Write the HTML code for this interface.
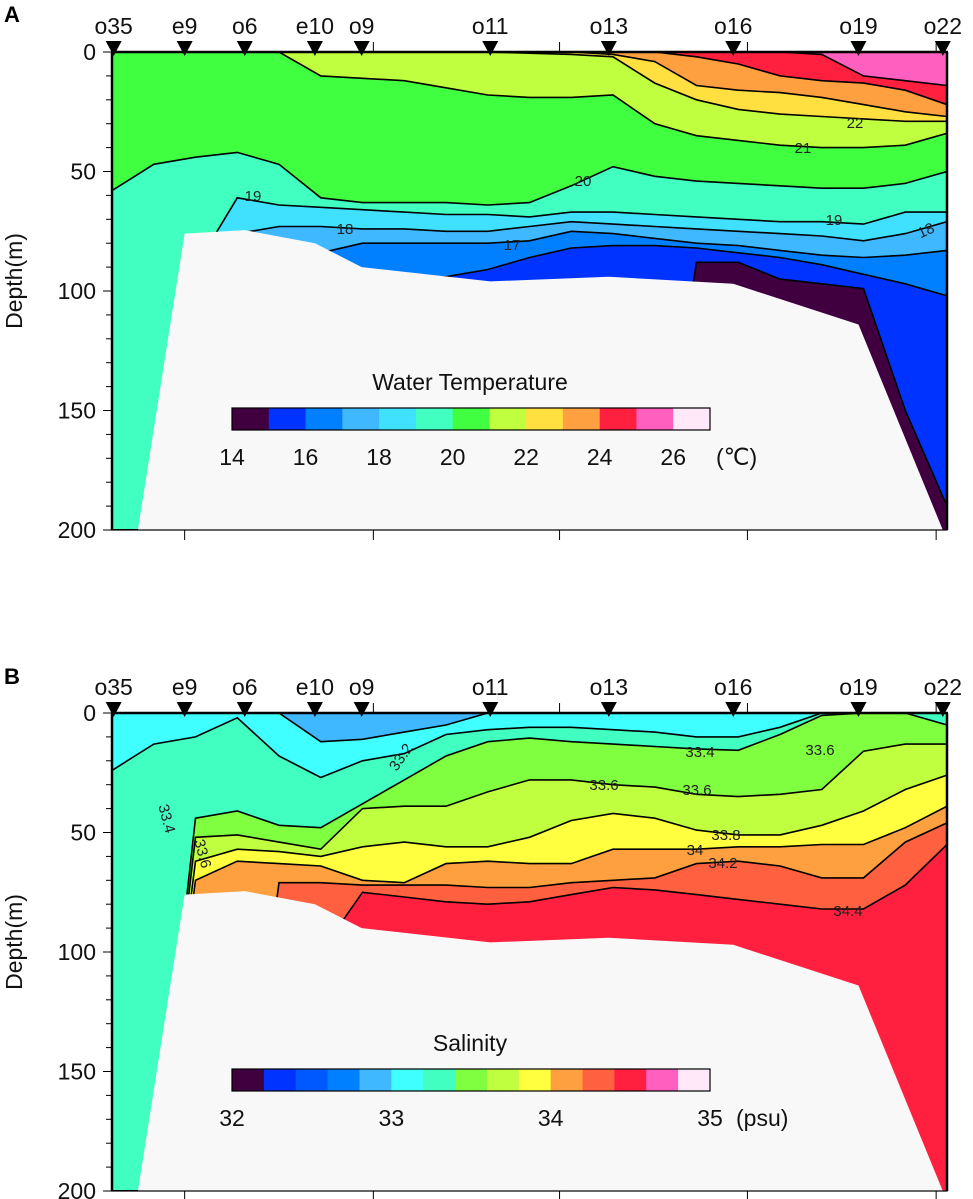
<!DOCTYPE html>
<html><head><meta charset="utf-8">
<style>
html,body{margin:0;padding:0;background:#fff;}
svg{display:block;font-family:"Liberation Sans",sans-serif;}
</style></head>
<body>
<svg id="chart" width="973" height="1199" viewBox="0 0 973 1199" xmlns="http://www.w3.org/2000/svg">
<text x="4" y="22" font-size="22" font-weight="bold">A</text>
<text x="4" y="684" font-size="22" font-weight="bold">B</text>
<g id="panelA"></g>
<g id="panelB"></g>
</svg>
<script>
// ---- shared data ----
const xs = [0,5,10,15,20,25,30,35,40,45,50,55,60,65,70,75,80,85,90,95,100];
const stationNames = ["o35","e9","o6","e10","o9","o11","o13","o16","o19","o22"];
const stationDist = [0.2,8.7,15.9,24.3,29.9,45.3,59.5,74.4,89.4,99.5];
const bottomTicks = [8.7,31.3,53.6,76.1,98.7];
const depthTicks = [0,50,100,150,200];
const bathyX = [3.1,8.7,15.9,24.3,29.9,45.3,59.5,74.4,89.4,99.5];
const bathyDepth = [200,76,74.5,80,90,96,94,97,114,200];

// ---- temperature isotherms (depth m at xs) ----
const T25 = [0,0,0,0,0,0,0,0,0,0,0,0,0,0,0,0,0,1,10,12,14];
const T24 = [0,0,0,0,0,0,0,0,0,0,0,0,0,0,2,5,10,12,13,16,22];
const T23 = [0,0,0,0,0,0,0,0,0,0,0,0,1,4,14,16,17,19,22,25,27];
const T22 = [0,0,0,0,0,0,0,0,0,0,0.5,1,2,13,20,24,26,27,28,29,29];
const T21 = [0,0,0,0,0,10,11,12,15,18,19,19,18,30,35,37,39,40,40,39,34];
const T20 = [58,47,44,42,47,61,63,63,63,64,63,56,48,52,54,55,56,57,57,55,50];
const T19 = [200,200,90,61,64,65,66,67,68,68,69,67,67,68,69,70,71,71,72,67,67];
const T18 = [200,200,95,76,73,73,74,74,75,75,73,71,72,73,74,75,76,77,79,76,71];
const T17 = [200,200,200,95,88,84,80,80,80,80,79,75,76,78,80,81,83,85,86,85,83];
const T16 = [200,200,200,200,200,120,100,96,94,91,86,82,81,81,82,84,86,89,93,97,102];
const T15 = [200,200,200,200,200,200,200,200,200,200,200,200,200,200,88,88,95,97,99,150,190];
const tempColors = ["#400040","#0033ff","#0080ff","#40b8ff","#40e0ff","#40ffc0","#40ff40","#c0ff40","#ffe040","#ffa040","#ff2040","#ff60c0","#ffe8f8"];
const tempTickLabels = ["14","16","18","20","22","24","26"];

// ---- salinity isohalines ----
const S330 = [0,0,0,0,0,12,11,8,5,0,0,0,0,0,0,0,0,0,0,0,0];
const S332 = [24,13,10,2,18,27,20,17,9,7,6,6,7,8,10,10,6,0,0,0,0];
const S334 = [200,200,44,41,47,48,38,28,18,12,10.5,12,13,14,15,15.6,9,1,0,0,5];
const S336 = [200,200,52,51,54,57,40,39,39,33,28,28,30,31,34,35,34,32,16,13,13];
const S338 = [200,200,62,57,58,60,56,54,56,56,52,45,42,44,49,51,51,47,41,32,26];
const S340 = [200,200,70,62,63,64,70,71,63,62,63,63,57,57,57,56,56,55,55,48,39];
const S342 = [200,200,200,200,71,71,72,72,72,73,73,71,70,69,63,62,64,69,69,54,46];
const S344 = [200,200,200,200,200,100,75,77,79,80,79,76,73,74,76,78,80,82,82,72,55];
const salColors = ["#400040","#0033ff","#0058ff","#0080ff","#40b8ff","#40ffff","#40ffc0","#80ff40","#c0ff40","#ffff40","#ffa040","#ff6040","#ff2040","#ff60c0","#ffe8f8"];
const salTickLabels = ["32","33","34","35"];

const NS = "http://www.w3.org/2000/svg";
function mk(tag, attrs, parent){ const e=document.createElementNS(NS,tag); for(const k in attrs) e.setAttribute(k,attrs[k]); parent.appendChild(e); return e; }

const X0=112, X1=947;
function xScale(d){ return X0 + (X1-X0)*d/100; }

function drawPanel(g, top, isolines, bandColors, bgIndex, name, cbar, contourLabels, cid){
  const bot = top + 478;
  const yScale = d => top + (bot-top)*d/200;
  const clip = mk('clipPath',{id:cid},g);
  mk('rect',{x:X0,y:top,width:X1-X0,height:bot-top},clip);
  const plot = mk('g',{'clip-path':'url(#'+cid+')'},g);
  
  
  const bg = mk('rect',{x:X0,y:top,width:X1-X0,height:bot-top,fill:bandColors[bgIndex]},plot);
  
  
  isolines.forEach((iso)=>{
    const pts = xs.map((x,j)=>xScale(x).toFixed(1)+','+yScale(iso.d[j]).toFixed(1));
    const band = mk('path',{d:'M'+pts.join(' L')+' L'+xScale(100)+','+(bot+5)+' L'+xScale(0)+','+(bot+5)+' Z',fill:bandColors[iso.below]},plot);
    
    
  });
  isolines.forEach((iso)=>{
    const pts = xs.map((x,j)=>xScale(x).toFixed(1)+','+yScale(iso.d[j]).toFixed(1));
    const ln = mk('path',{d:'M'+pts.join(' L'),fill:'none',stroke:'#000','stroke-width':1.6},plot);
    
    
  });
  let bp = 'M'+xScale(bathyX[0])+','+(bot+5);
  bathyX.forEach((x,j)=>{ bp += ' L'+xScale(x).toFixed(1)+','+yScale(bathyDepth[j]).toFixed(1); });
  bp += ' L'+xScale(bathyX[bathyX.length-1])+','+(bot+5)+' Z';
  const sea = mk('path',{d:bp,fill:'#f8f8f8'},plot);
  
  
  contourLabels.forEach(l=>{
    const t = mk('text',{x:l[0],y:l[1],'font-size':15,fill:'#222','text-anchor':'middle',transform:l[3]?('rotate('+l[3]+' '+l[0]+' '+l[1]+')'):''},plot);
    t.textContent = l[2];
    
    
  });
  const fr = mk('rect',{x:X0,y:top,width:X1-X0,height:bot-top,fill:'none',stroke:'#000','stroke-width':1.2},g);
  
  
  mk('line',{x1:X0-1,y1:top,x2:X1+1,y2:top,stroke:'#000','stroke-width':2.5},g);
  mk('line',{x1:X0,y1:top,x2:X0,y2:bot,stroke:'#000','stroke-width':2.5},g);
  mk('line',{x1:X1,y1:top,x2:X1,y2:bot,stroke:'#000','stroke-width':2.5},g);
  for(let d=0; d<=200; d+=10){
    const major = d%50===0;
    mk('line',{x1:X0-(major?9:6),y1:yScale(d),x2:X0,y2:yScale(d),stroke:'#000','stroke-width':1},g);
  }
  depthTicks.forEach(d=>{
    const t = mk('text',{x:96,y:yScale(d)+8,'font-size':23,'text-anchor':'end',fill:'#111'},g);
    t.textContent = String(d);
    
    
  });
  const yt = mk('text',{x:22,y:(top+bot)/2-10,'font-size':23,'text-anchor':'middle',fill:'#111',transform:'rotate(-90 22 '+((top+bot)/2-10)+')'},g);
  yt.textContent = 'Depth(m)';
  
  
  bottomTicks.forEach(d=>{
    mk('line',{x1:xScale(d),y1:bot,x2:xScale(d),y2:bot+10,stroke:'#000','stroke-width':1},g);
    mk('line',{x1:xScale(d),y1:top,x2:xScale(d),y2:top-10,stroke:'#000','stroke-width':1},g);
  });
  stationNames.forEach((s,i)=>{
    const x = xScale(stationDist[i]);
    const tri = mk('path',{d:'M'+(x-8)+','+(top-11)+' L'+(x+8)+','+(top-11)+' L'+x+','+(top+4)+' Z',fill:'#000'},g);
    
    
    const t = mk('text',{x:x,y:top-18,'font-size':23,'text-anchor':'middle',fill:'#111'},g);
    t.textContent = s;
    
    
  });
  const cbX0=232, cbX1=710, cbY=top+356, cbH=22;
  const ttl = mk('text',{x:470,y:cbY-18,'font-size':23,'text-anchor':'middle',fill:'#111'},g);
  ttl.textContent = cbar.title;
  
  
  const n = bandColors.length, w = (cbX1-cbX0)/n;
  bandColors.forEach((c,i)=>{
    const r = mk('rect',{x:cbX0+i*w,y:cbY,width:w+0.5,height:cbH,fill:c},g);
    
    
  });
  mk('rect',{x:cbX0,y:cbY,width:cbX1-cbX0,height:cbH,fill:'none',stroke:'#000','stroke-width':1.2},g);
  cbar.labels.forEach((lab,i)=>{
    const x = cbX0 + i*cbar.step*w;
    const t = mk('text',{x:x,y:cbY+cbH+35,'font-size':23,'text-anchor':'middle',fill:'#111'},g);
    t.textContent = lab;
    
    
  });
  const u = mk('text',{x:cbar.unitX,y:cbY+cbH+35,'font-size':23,'text-anchor':'start',fill:'#111'},g);
  u.textContent = cbar.unit;
  
  
}

drawPanel(document.getElementById('panelA'), 52,
  [{d:T25,below:10,label:'25'},{d:T24,below:9,label:'24'},{d:T23,below:8,label:'23'},{d:T22,below:7,label:'22'},{d:T21,below:6,label:'21'},{d:T20,below:5,label:'20'},{d:T19,below:4,label:'19'},{d:T18,below:3,label:'18'},{d:T17,below:2,label:'17'},{d:T16,below:1,label:'16'},{d:T15,below:0,label:'15'}],
  tempColors, 11, 'temperature',
  {title:'Water Temperature', labels:tempTickLabels, unit:'(℃)', unitX:716, step:2},
  [[253,201,'19'],[345,234,'18'],[512,250,'17'],[583,186,'20'],[803,153,'21'],[855,128,'22'],[834,225,'19'],[928,235,'18',-25]],
  'clipA');
drawPanel(document.getElementById('panelB'), 713,
  [{d:S330,below:5,label:'33.0'},{d:S332,below:6,label:'33.2'},{d:S334,below:7,label:'33.4'},{d:S336,below:8,label:'33.6'},{d:S338,below:9,label:'33.8'},{d:S340,below:10,label:'34.0'},{d:S342,below:11,label:'34.2'},{d:S344,below:12,label:'34.4'}],
  salColors, 4, 'salinity',
  {title:'Salinity', labels:salTickLabels, unit:'(psu)', unitX:736, step:5},
  [[405,760,'33.2',-55],[604,790,'33.6'],[697,795,'33.6'],[700,757,'33.4'],[820,755,'33.6'],[726,840,'33.8'],[695,855,'34'],[723,868,'34.2'],[848,916,'34.4'],[162,820,'33.4',75],[198,855,'33.6',75]],
  'clipB');
</script>
</body></html>
